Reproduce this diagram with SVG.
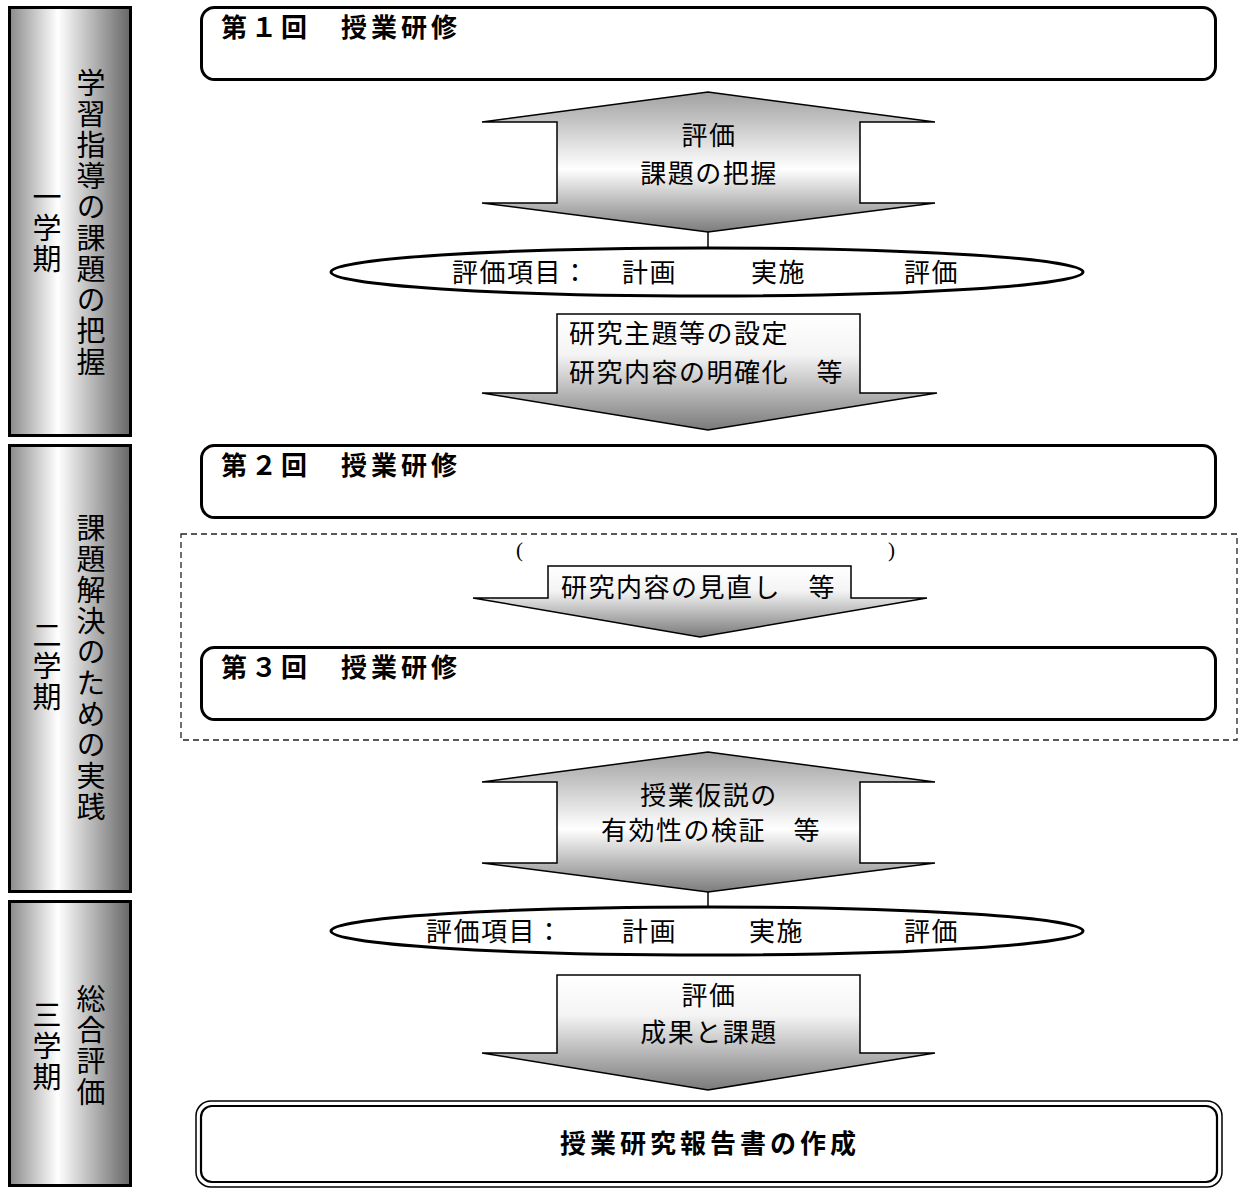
<svg xmlns="http://www.w3.org/2000/svg" width="1239" height="1189" viewBox="0 0 1239 1189">
<defs>
<linearGradient id="barGrad" x1="0" y1="0" x2="1" y2="0">
<stop offset="0" stop-color="#8a8a8a"/>
<stop offset="0.4" stop-color="#ffffff"/>
<stop offset="1" stop-color="#666666"/>
</linearGradient>
<linearGradient id="dblGrad" x1="0" y1="0" x2="0" y2="1">
<stop offset="0" stop-color="#a0a0a0"/>
<stop offset="0.55" stop-color="#ffffff"/>
<stop offset="1" stop-color="#7c7c7c"/>
</linearGradient>
<linearGradient id="downGrad" x1="0" y1="0" x2="0" y2="1">
<stop offset="0" stop-color="#ffffff"/>
<stop offset="0.35" stop-color="#f4f4f4"/>
<stop offset="1" stop-color="#7a7a7a"/>
</linearGradient>
<style>
.bar{fill:url(#barGrad);stroke:#000;stroke-width:3}
.vt{font-family:"Noto Sans CJK JP","Noto Sans CJK SC",sans-serif;font-size:29px;letter-spacing:2px;writing-mode:vertical-rl;text-anchor:middle;fill:#000}
.box{fill:#fff;stroke:#000;stroke-width:3}
.ttl{font-family:"Noto Sans CJK JP","Noto Sans CJK SC",sans-serif;font-size:26px;font-weight:bold;letter-spacing:4px;fill:#000}
.dbl{fill:url(#dblGrad);stroke:#000;stroke-width:1.5}
.down{fill:url(#downGrad);stroke:#000;stroke-width:1.5}
.txt{font-family:"Noto Sans CJK JP","Noto Sans CJK SC",sans-serif;font-size:26px;letter-spacing:1.5px;fill:#000}
.mid{text-anchor:middle}
.ell{fill:#fff;stroke:#000;stroke-width:3}
.dash{fill:none;stroke:#222;stroke-width:1.3;stroke-dasharray:6 4}
.par{font-family:"Liberation Serif",serif;font-size:21px;fill:#000}
.conn{stroke:#000;stroke-width:1.5}
</style>
</defs>

<g id="term1">
<rect class="bar" x="9.5" y="7.5" width="121" height="428"/>
<text class="vt" x="91" y="223">学習指導の課題の把握</text>
<text class="vt" x="47" y="229">一学期</text>
</g>
<g id="term2">
<rect class="bar" x="9.5" y="445.5" width="121" height="446"/>
<text class="vt" x="91" y="668">課題解決のための実践</text>
<text class="vt" x="47" y="667">二学期</text>
</g>
<g id="term3">
<rect class="bar" x="9.5" y="901.5" width="121" height="284"/>
<text class="vt" x="91" y="1046">総合評価</text>
<text class="vt" x="47" y="1047">三学期</text>
</g>

<g id="session1">
<rect class="box" x="201.5" y="7.5" width="1014" height="72" rx="13"/>
<text class="ttl" x="221" y="37">第１回　授業研修</text>
</g>

<g id="connectors">
<line class="conn" x1="708" y1="230" x2="708" y2="248"/>
<line class="conn" x1="708" y1="890" x2="708" y2="907"/>
</g>

<g id="eval1">
<polygon class="dbl" points="708,92 935,122 860,122 860,203 935,203 708,232 482,203 557,203 557,122 482,122"/>
<text class="txt mid" x="709" y="145">評価</text>
<text class="txt mid" x="709" y="183">課題の把握</text>
</g>

<g id="items1">
<ellipse class="ell" cx="707" cy="272" rx="376" ry="24"/>
<text class="txt"><tspan x="452" y="282">評価項目：</tspan><tspan x="622" y="282">計画</tspan><tspan x="751" y="282">実施</tspan><tspan x="904" y="282">評価</tspan></text>
</g>

<g id="setting">
<polygon class="down" points="557,314 860,314 860,393 937,393 708,430 482,393 557,393"/>
<text class="txt" x="569" y="343">研究主題等の設定</text>
<text class="txt" x="569" y="382">研究内容の明確化　等</text>
</g>

<g id="session2">
<rect class="box" x="201.5" y="445.5" width="1014" height="72" rx="13"/>
<text class="ttl" x="221" y="475">第２回　授業研修</text>
</g>

<g id="cycle">
<rect class="dash" x="181" y="534" width="1056" height="206"/>
<text class="par" x="516" y="557">(</text>
<text class="par" x="888" y="557">)</text>
</g>

<g id="review">
<polygon class="down" points="548,566 851,566 851,598 927,598 700,637 473,598 548,598"/>
<text class="txt" x="561" y="597">研究内容の見直し　等</text>
</g>

<g id="session3">
<rect class="box" x="201.5" y="647.5" width="1014" height="72" rx="13"/>
<text class="ttl" x="221" y="677">第３回　授業研修</text>
</g>

<g id="verify">
<polygon class="dbl" points="708,752 935,782 860,782 860,863 935,863 708,892 482,863 557,863 557,782 482,782"/>
<text class="txt mid" x="709" y="805">授業仮説の</text>
<text class="txt mid" x="711" y="840">有効性の検証　等</text>
</g>

<g id="items2">
<ellipse class="ell" cx="707" cy="931" rx="376" ry="24"/>
<text class="txt"><tspan x="426" y="941">評価項目：</tspan><tspan x="622" y="941">計画</tspan><tspan x="749" y="941">実施</tspan><tspan x="904" y="941">評価</tspan></text>
</g>

<g id="result">
<polygon class="down" points="557,975 860,975 860,1053 935,1053 708,1090 482,1053 557,1053"/>
<text class="txt mid" x="709" y="1005">評価</text>
<text class="txt mid" x="709" y="1042">成果と課題</text>
</g>

<g id="report">
<rect x="196" y="1101" width="1026" height="86" rx="15" fill="#fff" stroke="#000" stroke-width="1.5"/>
<rect x="201" y="1106" width="1016" height="76" rx="11" fill="none" stroke="#000" stroke-width="2.2"/>
<text class="ttl mid" x="710" y="1153">授業研究報告書の作成</text>
</g>
</svg>
